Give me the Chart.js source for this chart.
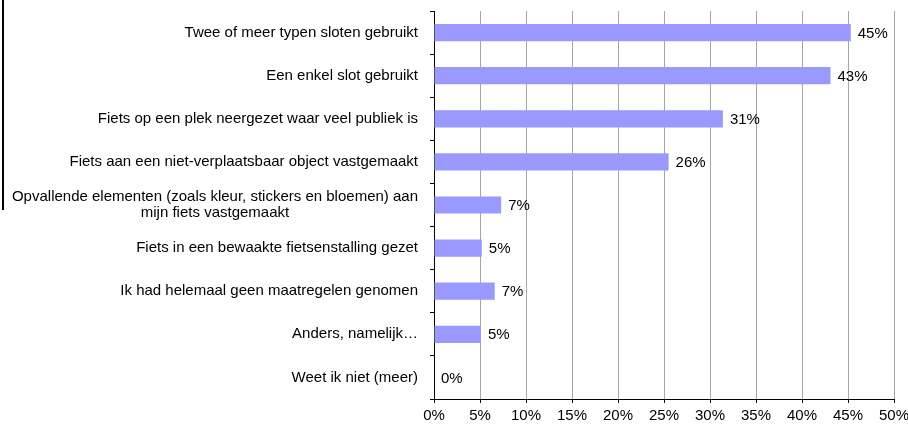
<!DOCTYPE html>
<html>
<head>
<meta charset="utf-8">
<script src="https://cdn.jsdelivr.net/npm/chart.js@4"></script>
<style>
  html, body { margin: 0; padding: 0; background: #fff; }
  #wrap { position: relative; width: 908px; height: 424px; }
  #edge { position: absolute; left: 2px; top: 0; width: 2px; height: 210px; background: #000; }
</style>
</head>
<body>
<div id="wrap">
  <canvas id="chart" width="908" height="424"></canvas>
  <div id="edge"></div>
</div>
<script>
const categories = [
  'Twee of meer typen sloten gebruikt',
  'Een enkel slot gebruikt',
  'Fiets op een plek neergezet waar veel publiek is',
  'Fiets aan een niet-verplaatsbaar object vastgemaakt',
  ['Opvallende elementen (zoals kleur, stickers en bloemen) aan', 'mijn fiets vastgemaakt'],
  'Fiets in een bewaakte fietsenstalling gezet',
  'Ik had helemaal geen maatregelen genomen',
  'Anders, namelijk…',
  'Weet ik niet (meer)',
];
const values = [45.3, 43.1, 31.4, 25.5, 7.3, 5.2, 6.6, 5.1, 0];
const valueLabels = ['45%', '43%', '31%', '26%', '7%', '5%', '7%', '5%', '0%'];

const FAMILY = '"Liberation Sans", Arial, sans-serif';
const FONT = '15px ' + FAMILY;

// category labels: right aligned, extra lines centred under the first one
const catLabels = {
  id: 'catLabels',
  afterDraw(chart) {
    const { ctx } = chart;
    const y = chart.scales.y;
    ctx.save();
    ctx.font = FONT;
    ctx.fillStyle = '#000';
    ctx.textBaseline = 'middle';
    categories.forEach((lab, i) => {
      const cy = y.getPixelForTick(i);
      const right = chart.chartArea.left - 16;
      if (Array.isArray(lab)) {
        const w = ctx.measureText(lab[0]).width;
        const mid = right - w / 2;
        const lh = 16;
        const top = cy - (lab.length - 1) * lh / 2;
        ctx.textAlign = 'center';
        lab.forEach((l, j) => ctx.fillText(l, mid, top + j * lh));
      } else {
        ctx.textAlign = 'right';
        ctx.fillText(lab, right, cy);
      }
    });
    ctx.restore();
  }
};

const barValues = {
  id: 'barValues',
  afterDatasetsDraw(chart) {
    const { ctx } = chart;
    const meta = chart.getDatasetMeta(0);
    ctx.save();
    ctx.font = FONT;
    ctx.fillStyle = '#000';
    ctx.textAlign = 'left';
    ctx.textBaseline = 'middle';
    meta.data.forEach((bar, i) => {
      ctx.fillText(valueLabels[i], bar.x + 7, bar.y + 1);
    });
    ctx.restore();
  }
};

new Chart(document.getElementById('chart'), {
  type: 'bar',
  data: {
    labels: categories,
    datasets: [{
      data: values,
      backgroundColor: '#9999ff',
      borderWidth: 0,
      barPercentage: 0.4,
      categoryPercentage: 1,
    }],
  },
  options: {
    indexAxis: 'y',
    responsive: false,
    animation: false,
    layout: { padding: { top: 11, right: 0, left: 0, bottom: 0 } },
    plugins: { legend: { display: false }, tooltip: { enabled: false } },
    scales: {
      x: {
        min: 0,
        max: 50,
        ticks: {
          stepSize: 5,
          color: '#000',
          font: { family: FAMILY, size: 15 },
          padding: 4,
          callback: v => v + '%',
        },
        grid: { color: '#a6a6a6', tickColor: '#000', tickLength: 4 },
        border: { color: '#000' },
        afterFit: s => { s.height = 25; s.paddingRight = 14; s.paddingLeft = 0; },
      },
      y: {
        ticks: { display: false },
        grid: { drawOnChartArea: false, offset: true, tickColor: '#000', tickLength: 4 },
        border: { color: '#000' },
        afterFit: s => { s.width = 434; },
      },
    },
  },
  plugins: [catLabels, barValues],
});
</script>
</body>
</html>
